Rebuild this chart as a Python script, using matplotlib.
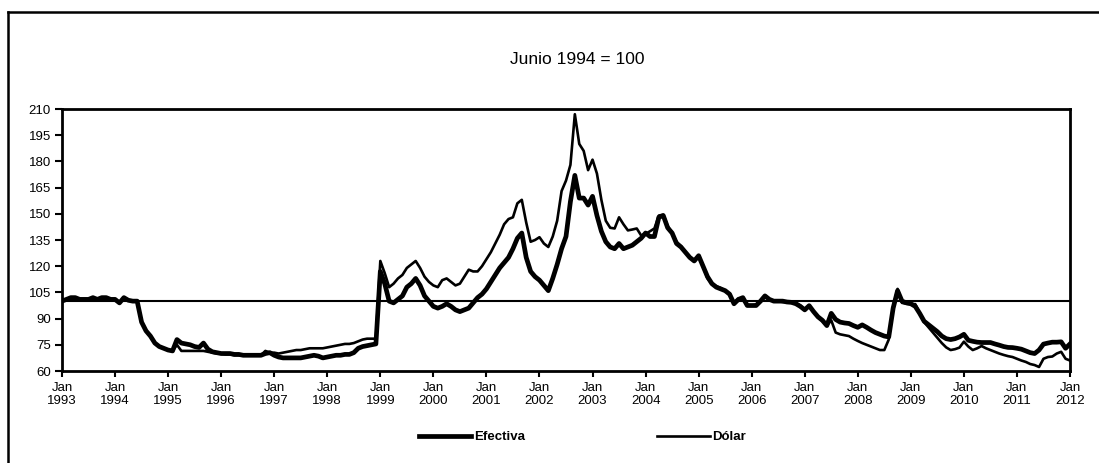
# Tipo de cambio real, Junio 1994 = 100 (monthly, Jan 1993 - Jan 2012)
import numpy as np
import matplotlib
matplotlib.use('Agg')
import matplotlib.pyplot as plt
from matplotlib.lines import Line2D

plt.rcParams['font.family'] = ['Liberation Sans', 'DejaVu Sans']

years = list(range(1993, 2013))
tick_labels = ['Jan\n%d' % y for y in years]

efectiva = [
    # 1993
    100, 101, 102, 102, 101, 101, 101, 102, 101, 102, 102, 101,
    # 1994
    101, 99, 102, 100.5, 100, 100, 88, 83, 80, 76, 74, 73,
    # 1995
    72, 71.5, 78, 76, 75.5, 75, 74, 73.5, 76, 72.5, 71, 70.5,
    # 1996
    70, 70, 70, 69.5, 69.5, 69, 69, 69, 69, 69, 70, 70.5,
    # 1997
    69, 68, 67.5, 67.5, 67.5, 67.5, 67.5, 68, 68.5, 69, 68.5, 67.5,
    # 1998
    68, 68.5, 69, 69, 69.5, 69.5, 70.5, 73, 74, 74.5, 75, 75.5,
    # 1999
    117, 110, 100, 99, 101, 103, 108, 110, 113, 109, 103, 100,
    # 2000
    97, 96, 97, 98.5, 97, 95, 94, 95, 96, 99, 102, 104,
    # 2001
    107, 111, 115, 119, 122, 125, 130, 136, 139, 125, 117, 114,
    # 2002
    112, 109, 106, 113, 121, 130, 137, 157, 172, 159, 159, 155,
    # 2003
    160, 149, 140, 134, 131, 130, 133, 130, 131, 132, 134, 136,
    # 2004
    139, 137, 137, 148, 149, 142, 139, 133, 131, 128, 125, 123,
    # 2005
    126, 120, 114, 110, 108, 107, 106, 104, 98.5, 101, 102, 97.5,
    # 2006
    97.5, 97.5, 100, 103, 101, 100, 100, 100, 99.5, 99.3, 98.5, 97,
    # 2007
    95, 97.4, 94, 91, 89, 86, 93, 89.5, 88, 87.5, 87.2, 86,
    # 2008
    85, 86.4, 85, 83.4, 82, 81, 80, 79.5, 96, 106, 100, 99,
    # 2009
    98.5, 97, 93, 88.5, 86.5, 84.5, 82.5, 80, 78.5, 78, 78.5, 79.5,
    # 2010
    81, 77.6, 77, 76.5, 76.3, 76.3, 76.3, 75.5, 74.8, 74, 73.5, 73.4,
    # 2011
    73, 72.5, 71.5, 70.5, 70, 72, 75.4, 76, 76.5, 76.5, 76.7, 73,
    # 2012
    75.5,
]

dolar = [
    # 1993
    100, 101, 102, 102, 101, 101, 101, 102, 101, 102, 102, 101,
    # 1994
    101, 99, 102, 100.5, 100, 100, 88, 83, 80, 76, 74, 73,
    # 1995
    72, 71.5, 75, 71.5, 71.5, 71.5, 71.5, 71.5, 71.5, 71, 70.5, 70,
    # 1996
    70, 69.5, 69.5, 69, 69, 69, 69, 69, 69, 69, 71.5, 70.5,
    # 1997
    70.5, 70, 70.5, 71, 71.5, 72, 72, 72.5, 73, 73, 73, 73,
    # 1998
    73.5, 74, 74.5, 75, 75.5, 75.5, 76, 77, 78, 78.5, 78.5, 78.5,
    # 1999
    123, 116, 108, 110, 113, 115, 119, 121, 123, 119, 114, 111,
    # 2000
    109, 108, 112, 113, 111, 109, 110, 114, 118, 117, 117, 120,
    # 2001
    124, 128, 133, 138, 144, 147, 148, 156, 158, 145, 134, 135,
    # 2002
    136.6, 133, 131, 137, 146, 163, 169, 178, 207, 190, 186, 175,
    # 2003
    181, 173, 158, 146, 142, 141.6, 148, 144, 140.5, 141, 141.6, 137.6,
    # 2004
    138.5, 140, 141.6, 149, 149.5, 143, 139, 134, 131.5, 128, 125.5, 123.5,
    # 2005
    126, 120, 113, 110, 108.5, 107.5, 106, 104, 99, 101.5, 101.5, 97.5,
    # 2006
    97.5, 98, 100.5, 103, 101, 100, 100, 99.5, 99.5, 99, 99, 97.5,
    # 2007
    95, 97, 94, 91, 88.5, 86, 89, 82, 81, 80.5, 80, 78.5,
    # 2008
    77.2, 76, 75, 74, 73, 72, 72, 78, 97, 107, 99, 98.5,
    # 2009
    98.3, 98.3, 93, 88, 85, 82, 79, 76, 73.5, 72, 72.5, 73.4,
    # 2010
    76.8, 74, 72, 73, 74.3, 73, 72, 71, 70, 69.2, 68.5, 68,
    # 2011
    67, 66, 65.2, 64, 63.4, 62.3, 67, 68, 68.3, 70, 71, 67,
    # 2012
    66,
]

base_level = 100

fig = plt.figure(figsize=(10.99, 4.63), dpi=100)
ax = fig.add_axes([62/1099, 1-371/463, (1070-62)/1099, (371-109)/463])

x = np.arange(len(efectiva))
ax.plot(x, efectiva, color='black', lw=3.4, solid_joinstyle='round', label='Efectiva', zorder=3)
ax.plot(x, dolar, color='black', lw=1.9, solid_joinstyle='round', label='Dólar', zorder=4)
ax.axhline(base_level, color='black', lw=1.5, zorder=2)

ax.set_xlim(0, len(efectiva) - 1)
ax.set_ylim(60, 210)
ax.set_yticks(np.arange(60, 211, 15))
ax.set_xticks(np.arange(0, len(efectiva), 12))
ax.set_xticklabels(tick_labels, fontsize=9.5, linespacing=1.15)
ax.tick_params(axis='y', labelsize=9.5, direction='out', length=5, width=1.5, pad=3)
ax.tick_params(axis='x', direction='out', length=4, width=1.5, pad=4)
for side in ['left', 'right', 'top', 'bottom']:
    ax.spines[side].set_linewidth(2)

fig.text(0.525, 1-60/463, 'Junio 1994 = 100', ha='center', va='center', fontsize=12.5)

fig.legend(loc='center', bbox_to_anchor=(0.53, 1-437/463), ncol=2, frameon=False,
           handlelength=4, handletextpad=0.2, columnspacing=10,
           prop={'weight': 'bold', 'size': 9.5})

# outer chart frame (only top and left visible in the crop)
fig.add_artist(Line2D([8/1099, 1], [1-12/463, 1-12/463], color='black', lw=1.8))
fig.add_artist(Line2D([8/1099, 8/1099], [0, 1-12/463], color='black', lw=1.8))

fig.savefig('out.png', dpi=100)
